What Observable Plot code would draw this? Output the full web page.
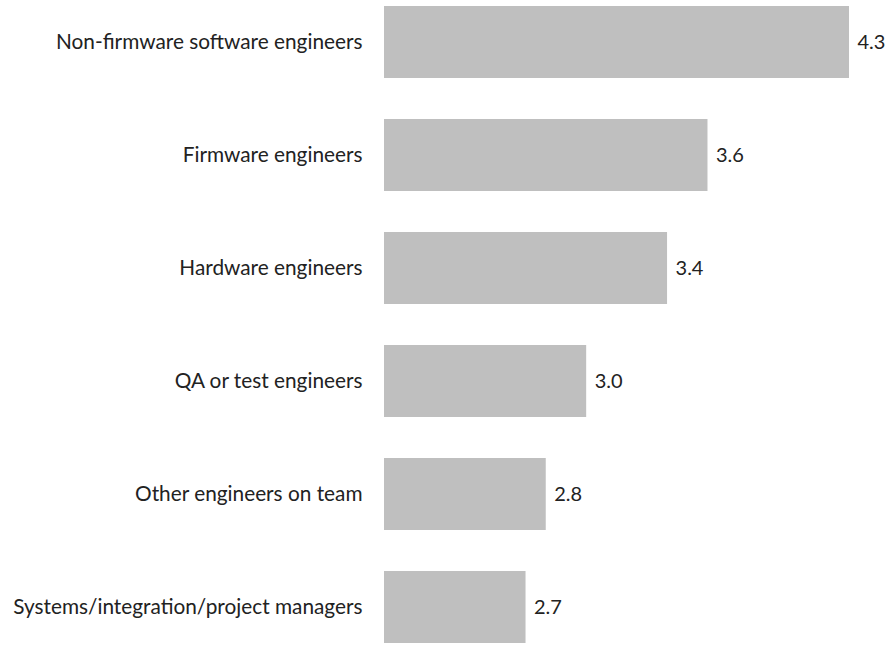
<!DOCTYPE html>
<html>
<head>
<meta charset="utf-8">
<script src="https://cdn.jsdelivr.net/npm/d3@7"></script>
<script src="https://cdn.jsdelivr.net/npm/@observablehq/plot@0.6"></script>
<style>
  html, body { margin: 0; padding: 0; background: #fff; }
  #chart svg { display: block; }
</style>
</head>
<body>
<div id="chart"></div>
<script>
const categories = [
  "Non-firmware software engineers",
  "Firmware engineers",
  "Hardware engineers",
  "QA or test engineers",
  "Other engineers on team",
  "Systems/integration/project managers"
];
const values = [4.3, 3.6, 3.4, 3.0, 2.8, 2.7];
const valueLabels = ["4.3", "3.6", "3.4", "3.0", "2.8", "2.7"];
const xDomain = [2, 4.3];

const data = categories.map((c, i) => ({category: c, value: values[i], label: valueLabels[i]}));

const chart = Plot.plot({
  width: 886,
  height: 645,
  marginTop: 4,
  marginBottom: 0,
  marginLeft: 384,
  marginRight: 37,
  style: {fontFamily: "Lato, sans-serif", fontSize: "20.8px", color: "#222", background: "#fff"},
  x: {domain: xDomain, axis: null},
  y: {domain: categories, paddingInner: 0.366, paddingOuter: 0, label: null},
  marks: [
    Plot.barX(data, {y: "category", x1: xDomain[0], x2: "value", fill: "#bfbfbf"}),
    Plot.text(data, {y: "category", x: "value", text: "label", dx: 8, textAnchor: "start", fill: "#222", fontSize: 20}),
    Plot.axisY({tickSize: 0, tickPadding: 22, fontSize: 20.8, label: null, fill: "#222"})
  ]
});
document.getElementById("chart").appendChild(chart);
</script>
</body>
</html>
